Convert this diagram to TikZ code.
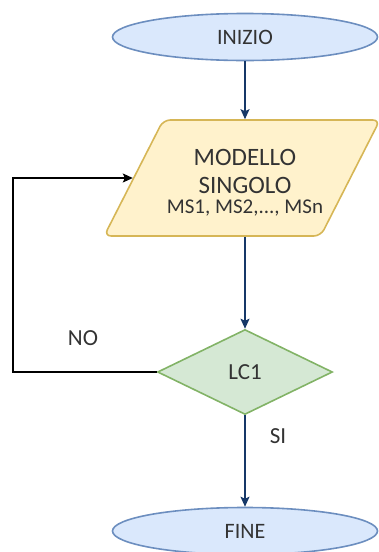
\documentclass[tikz,border=0pt]{standalone}
\usepackage{fontspec}
\setmainfont{Carlito}
\usetikzlibrary{positioning,shapes.geometric,arrows.meta}
\tikzstyle{canvas} = [x = 1pt, y = -1pt]
\definecolor{startFill}{HTML}{DAE8FC}
\definecolor{startLine}{HTML}{6C8EBF}
\definecolor{dataFill}{HTML}{FFF2CC}
\definecolor{dataLine}{HTML}{D6B656}
\definecolor{testFill}{HTML}{D5E8D4}
\definecolor{testLine}{HTML}{82B366}
\definecolor{flowColor}{RGB}{22,56,104}
\definecolor{textColor}{HTML}{333333}
\tikzstyle{terminalStyle} = [ellipse, draw=startLine, fill=startFill, line width=1.6pt, minimum width=265pt, minimum height=47pt, inner sep=0pt, text=textColor, font=\fontsize{22}{26}\selectfont]
\tikzstyle{dataStyle} = [trapezium, trapezium left angle=63.4, trapezium right angle=116.6, trapezium stretches=true, draw=dataLine, fill=dataFill, line width=1.6pt, rounded corners=7pt, minimum width=276pt, minimum height=116pt, inner sep=0pt]
\tikzstyle{testStyle} = [diamond, draw=testLine, fill=testFill, line width=1.6pt, minimum width=175pt, minimum height=85pt, inner sep=0pt, text=textColor, font=\fontsize{23}{27}\selectfont]
\tikzstyle{flowLine} = [draw=flowColor, line width=1.3pt, -{Stealth[length=10pt, width=9pt, inset=2pt]}]
\tikzstyle{backLine} = [draw=black, line width=1.3pt, -{Stealth[length=10pt, width=9pt, inset=2pt]}]
\tikzstyle{labelText} = [text=textColor, font=\fontsize{23}{27}\selectfont]

\begin{document}
\begin{tikzpicture}[canvas]
  \useasboundingbox (0,0) rectangle (379,552);

  % blocks
  \node [terminalStyle] (start) at (245,37) {INIZIO};
  \node [dataStyle] (model) at (242,178) {\phantom{M}};
  \node [text=textColor, align=center, font=\fontsize{25}{28}\selectfont] (modelText) at (245,171) {MODELLO\\SINGOLO};
  \node [text=textColor, font=\fontsize{21}{24}\selectfont] (modelList) at (245,208) {MS1, MS2,..., MSn};
  \node [testStyle] (test) at (245,372) {LC1};
  \node [terminalStyle] (stop) at (245,531) {FINE};

  % labels on the branches
  \node [labelText] (no) at (83,338) {NO};
  \node [labelText] (si) at (278,436) {SI};

  % connectors
  \coordinate (bend) at (13,372);
  \draw [flowLine] (start.south) -- (start.south |- model.north);
  \draw [flowLine] (test.north |- model.south) -- (test.north);
  \draw [flowLine] (test) -- (stop);
  \draw [backLine] (test) -- (bend) |- (model.west);
\end{tikzpicture}
\end{document}
